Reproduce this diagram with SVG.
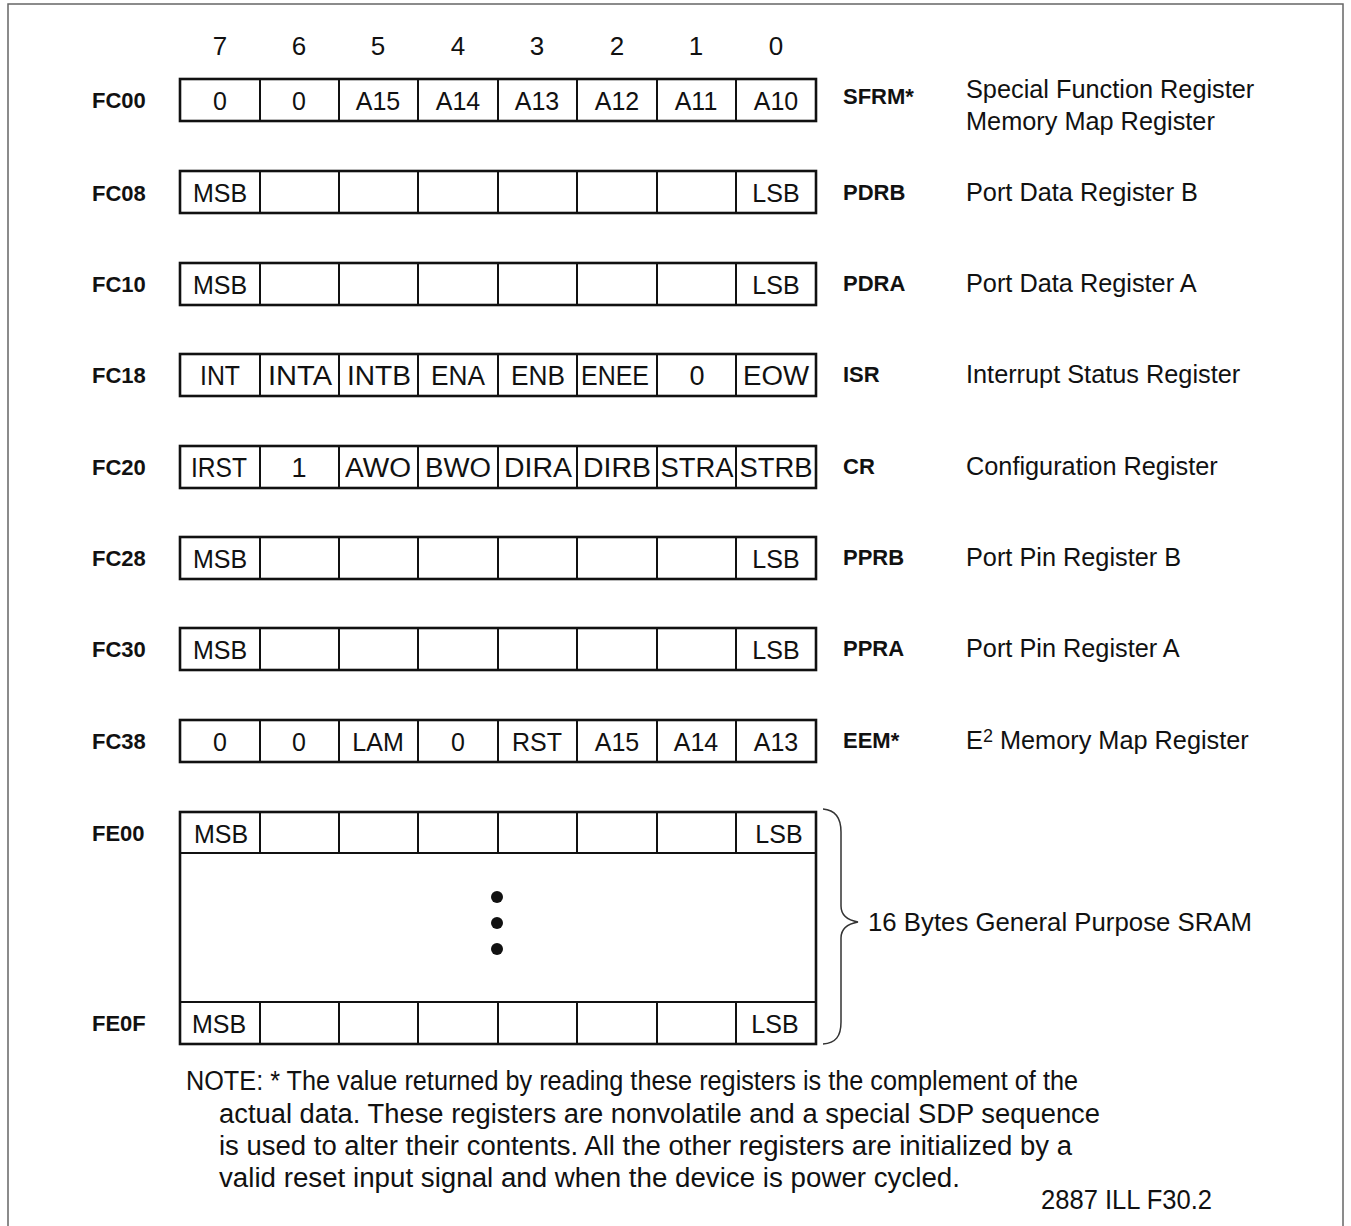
<svg xmlns="http://www.w3.org/2000/svg" width="1351" height="1226" viewBox="0 0 1351 1226">
<style>
  .frame{fill:none;stroke:#666;stroke-width:1.5}
  .box{fill:#fff;stroke:#111;stroke-width:2.6}
  .div{stroke:#111;stroke-width:2}
  .cell{font-family:"Liberation Sans",Arial,sans-serif;font-size:25px;fill:#111;text-anchor:middle}
  .cond{font-family:"Liberation Sans",Arial,sans-serif;font-size:27px;fill:#111;text-anchor:middle}
  .bit{font-family:"Liberation Sans",Arial,sans-serif;font-size:26px;fill:#111;text-anchor:middle}
  .addr{font-family:"Liberation Sans",Arial,sans-serif;font-size:22px;font-weight:bold;fill:#111}
  .name{font-family:"Liberation Sans",Arial,sans-serif;font-size:22px;font-weight:bold;fill:#111}
  .desc{font-family:"Liberation Sans",Arial,sans-serif;font-size:25.3px;fill:#111}
  .note{font-family:"Liberation Sans",Arial,sans-serif;font-size:27px;fill:#111}
  .brace{fill:none;stroke:#333;stroke-width:1.5}
</style>
<defs>
  <g id="dividers">
    <line class="div" x1="260" y1="0" x2="260" y2="42"/>
    <line class="div" x1="339" y1="0" x2="339" y2="42"/>
    <line class="div" x1="418" y1="0" x2="418" y2="42"/>
    <line class="div" x1="498" y1="0" x2="498" y2="42"/>
    <line class="div" x1="577" y1="0" x2="577" y2="42"/>
    <line class="div" x1="657" y1="0" x2="657" y2="42"/>
    <line class="div" x1="736" y1="0" x2="736" y2="42"/>
  </g>
</defs>
<rect class="frame" x="8" y="4" width="1335" height="1240"/>

<g id="bit-numbers">
  <text class="bit" x="220" y="55">7</text>
  <text class="bit" x="299" y="55">6</text>
  <text class="bit" x="378" y="55">5</text>
  <text class="bit" x="458" y="55">4</text>
  <text class="bit" x="537" y="55">3</text>
  <text class="bit" x="617" y="55">2</text>
  <text class="bit" x="696" y="55">1</text>
  <text class="bit" x="776" y="55">0</text>
</g>

<g id="reg-FC00">
  <text class="addr" x="92" y="108">FC00</text>
  <rect class="box" x="180" y="79" width="636" height="42"/>
  <use href="#dividers" transform="translate(0,79)"/>
  <text class="cell" x="220" y="110">0</text>
  <text class="cell" x="299" y="110">0</text>
  <text class="cell" x="378" y="110">A15</text>
  <text class="cell" x="458" y="110">A14</text>
  <text class="cell" x="537" y="110">A13</text>
  <text class="cell" x="617" y="110">A12</text>
  <text class="cell" x="696" y="110">A11</text>
  <text class="cell" x="776" y="110">A10</text>
  <text class="name" x="843" y="104">SFRM*</text>
  <text class="desc" x="966" y="98">Special Function Register</text>
  <text class="desc" x="966" y="130">Memory Map Register</text>
</g>

<g id="reg-FC08">
  <text class="addr" x="92" y="201">FC08</text>
  <rect class="box" x="180" y="171" width="636" height="42"/>
  <use href="#dividers" transform="translate(0,171)"/>
  <text class="cell" x="220" y="202">MSB</text>
  <text class="cell" x="776" y="202">LSB</text>
  <text class="name" x="843" y="200">PDRB</text>
  <text class="desc" x="966" y="201">Port Data Register B</text>
</g>

<g id="reg-FC10">
  <text class="addr" x="92" y="292">FC10</text>
  <rect class="box" x="180" y="263" width="636" height="42"/>
  <use href="#dividers" transform="translate(0,263)"/>
  <text class="cell" x="220" y="294">MSB</text>
  <text class="cell" x="776" y="294">LSB</text>
  <text class="name" x="843" y="291">PDRA</text>
  <text class="desc" x="966" y="292">Port Data Register A</text>
</g>

<g id="reg-FC18">
  <text class="addr" x="92" y="383">FC18</text>
  <rect class="box" x="180" y="354" width="636" height="42"/>
  <use href="#dividers" transform="translate(0,354)"/>
  <text class="cond" x="220" y="385" textLength="40" lengthAdjust="spacingAndGlyphs">INT</text>
  <text class="cond" x="300" y="385" textLength="64" lengthAdjust="spacingAndGlyphs">INTA</text>
  <text class="cond" x="379" y="385" textLength="64" lengthAdjust="spacingAndGlyphs">INTB</text>
  <text class="cond" x="458" y="385" textLength="54" lengthAdjust="spacingAndGlyphs">ENA</text>
  <text class="cond" x="538" y="385" textLength="54" lengthAdjust="spacingAndGlyphs">ENB</text>
  <text class="cond" x="615" y="385" textLength="68" lengthAdjust="spacingAndGlyphs">ENEE</text>
  <text class="cond" x="697" y="385">0</text>
  <text class="cond" x="776" y="385" textLength="66" lengthAdjust="spacingAndGlyphs">EOW</text>
  <text class="name" x="843" y="382">ISR</text>
  <text class="desc" x="966" y="383">Interrupt Status Register</text>
</g>

<g id="reg-FC20">
  <text class="addr" x="92" y="475">FC20</text>
  <rect class="box" x="180" y="446" width="636" height="42"/>
  <use href="#dividers" transform="translate(0,446)"/>
  <text class="cond" x="219" y="477" textLength="56" lengthAdjust="spacingAndGlyphs">IRST</text>
  <text class="cond" x="299" y="477">1</text>
  <text class="cond" x="378" y="477" textLength="66" lengthAdjust="spacingAndGlyphs">AWO</text>
  <text class="cond" x="458" y="477" textLength="66" lengthAdjust="spacingAndGlyphs">BWO</text>
  <text class="cond" x="538" y="477" textLength="68" lengthAdjust="spacingAndGlyphs">DIRA</text>
  <text class="cond" x="617" y="477" textLength="68" lengthAdjust="spacingAndGlyphs">DIRB</text>
  <text class="cond" x="697" y="477" textLength="73" lengthAdjust="spacingAndGlyphs">STRA</text>
  <text class="cond" x="776" y="477" textLength="73" lengthAdjust="spacingAndGlyphs">STRB</text>
  <text class="name" x="843" y="474">CR</text>
  <text class="desc" x="966" y="475">Configuration Register</text>
</g>

<g id="reg-FC28">
  <text class="addr" x="92" y="566">FC28</text>
  <rect class="box" x="180" y="537" width="636" height="42"/>
  <use href="#dividers" transform="translate(0,537)"/>
  <text class="cell" x="220" y="568">MSB</text>
  <text class="cell" x="776" y="568">LSB</text>
  <text class="name" x="843" y="565">PPRB</text>
  <text class="desc" x="966" y="566">Port Pin Register B</text>
</g>

<g id="reg-FC30">
  <text class="addr" x="92" y="657">FC30</text>
  <rect class="box" x="180" y="628" width="636" height="42"/>
  <use href="#dividers" transform="translate(0,628)"/>
  <text class="cell" x="220" y="659">MSB</text>
  <text class="cell" x="776" y="659">LSB</text>
  <text class="name" x="843" y="656">PPRA</text>
  <text class="desc" x="966" y="657">Port Pin Register A</text>
</g>

<g id="reg-FC38">
  <text class="addr" x="92" y="749">FC38</text>
  <rect class="box" x="180" y="720" width="636" height="42"/>
  <use href="#dividers" transform="translate(0,720)"/>
  <text class="cell" x="220" y="751">0</text>
  <text class="cell" x="299" y="751">0</text>
  <text class="cell" x="378" y="751">LAM</text>
  <text class="cell" x="458" y="751">0</text>
  <text class="cell" x="537" y="751">RST</text>
  <text class="cell" x="617" y="751">A15</text>
  <text class="cell" x="696" y="751">A14</text>
  <text class="cell" x="776" y="751">A13</text>
  <text class="name" x="843" y="748">EEM*</text>
  <text class="desc" x="966" y="749">E<tspan font-size="18" dy="-7">2</tspan><tspan dy="7"> Memory Map Register</tspan></text>
</g>

<g id="sram">
  <text class="addr" x="92" y="841">FE00</text>
  <text class="addr" x="92" y="1031">FE0F</text>
  <rect class="box" x="180" y="812" width="636" height="232"/>
  <line class="div" x1="180" y1="853" x2="816" y2="853"/>
  <line class="div" x1="180" y1="1002" x2="816" y2="1002"/>
  <use href="#dividers" transform="translate(0,812) scale(1,0.976)"/>
  <use href="#dividers" transform="translate(0,1002)"/>
  <text class="cell" x="221" y="843">MSB</text>
  <text class="cell" x="779" y="843">LSB</text>
  <text class="cell" x="219" y="1033">MSB</text>
  <text class="cell" x="775" y="1033">LSB</text>
  <circle cx="497" cy="897" r="6" fill="#111"/>
  <circle cx="497" cy="923" r="6" fill="#111"/>
  <circle cx="497" cy="949" r="6" fill="#111"/>
  <path class="brace" d="M823,809 C836,810 841,818 841,832 L841,906 C841,915 847,920 858,922 C847,924 841,929 841,938 L841,1022 C841,1036 836,1043 823,1044"/>
  <text class="desc" x="868" y="931" font-size="26" textLength="384" lengthAdjust="spacingAndGlyphs">16 Bytes General Purpose SRAM</text>
</g>

<g id="note">
  <text class="note" x="186" y="1090" textLength="892" lengthAdjust="spacingAndGlyphs">NOTE: * The value returned by reading these registers is the complement of the</text>
  <text class="note" x="219" y="1123" textLength="881" lengthAdjust="spacingAndGlyphs">actual data. These registers are nonvolatile and a special SDP sequence</text>
  <text class="note" x="219" y="1155" textLength="853" lengthAdjust="spacingAndGlyphs">is used to alter their contents. All the other registers are initialized by a</text>
  <text class="note" x="219" y="1187" textLength="741" lengthAdjust="spacingAndGlyphs">valid reset input signal and when the device is power cycled.</text>
  <text class="note" x="1041" y="1209" font-size="18" textLength="171" lengthAdjust="spacingAndGlyphs">2887 ILL F30.2</text>
</g>
<g id="connectors"></g>
</svg>
